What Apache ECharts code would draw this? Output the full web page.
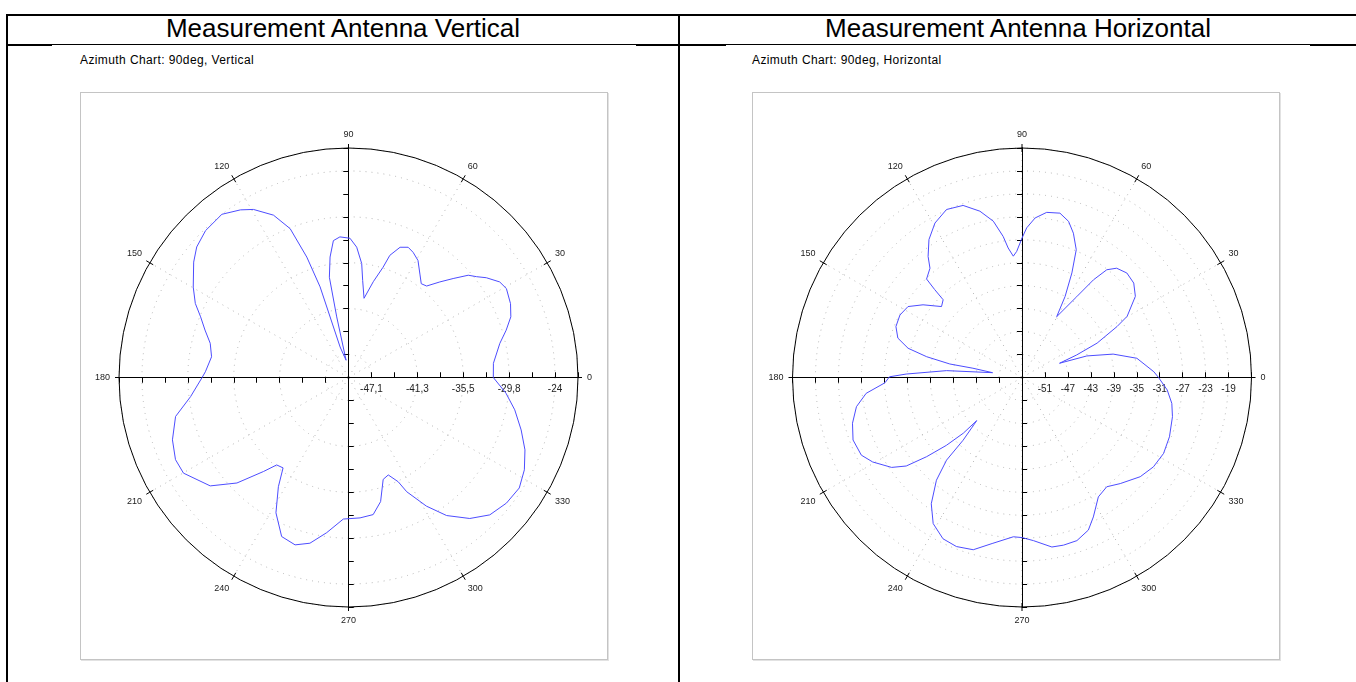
<!DOCTYPE html>
<html>
<head>
<meta charset="utf-8">
<script src="https://cdn.jsdelivr.net/npm/echarts@6/dist/echarts.min.js"></script>
<style>
  body { margin: 0; background: #fff; font-family: "Liberation Sans", Arial, sans-serif; }
  .ln { position: absolute; background: #000; }
  .ttl { position: absolute; top: 14px; height: 29px; line-height: 29px; text-align: center; font-size: 26px; color: #000; }
  .sub { position: absolute; top: 53px; font-size: 12px; letter-spacing: 0.4px; color: #000; }
  .box { position: absolute; top: 92px; width: 526px; height: 566px; border: 1px solid #c4c4c4; box-shadow: 1px 1px 0 #e2e2e2; }
  #chart { position: absolute; left: 0; top: 0; width: 1356px; height: 682px; }
</style>
</head>
<body>
<!-- table lines -->
<div class="ln" style="left:6px;top:14px;width:1350px;height:2px"></div>
<div class="ln" style="left:6px;top:14px;width:2px;height:668px"></div>
<div class="ln" style="left:678px;top:14px;width:2px;height:668px"></div>
<div class="ln" style="left:6px;top:44px;width:1350px;height:1px"></div>
<div class="ln" style="left:6px;top:44px;width:46px;height:2px"></div>
<div class="ln" style="left:636px;top:44px;width:90px;height:2px"></div>
<div class="ln" style="left:1310px;top:44px;width:46px;height:2px"></div>

<div class="ttl" style="left:8px;width:670px">Measurement Antenna Vertical</div>
<div class="ttl" style="left:680px;width:676px">Measurement Antenna Horizontal</div>
<div class="sub" style="left:80px">Azimuth Chart: 90deg, Vertical</div>
<div class="sub" style="left:752px">Azimuth Chart: 90deg, Horizontal</div>
<div class="box" style="left:80px"></div>
<div class="box" style="left:752px"></div>

<div id="chart"></div>
<script>
// 垂直天线 (dB / deg)
var vAngles = [0, 5.6, 12.7, 16.7, 20.5, 24.5, 29.4, 32.3, 35.9, 38.2, 40.5, 43.4, 46.3, 49.5, 52.2, 55.1, 59.3, 62.7, 65.4, 68.4,
    71.3, 72.6, 75.5, 78.9, 81.7, 83.4, 86.4, 89.4, 93.5, 96.3, 98.7, 100.8, 101, 98, 105.4, 107.4, 109.1, 111.4, 114.8, 119.5,
    122.8, 127.8, 134.2, 139.3, 143.3, 149.8, 154.2, 157.7, 161.7, 166.1, 171.4, 177.7, 180, 186.9, 192.7, 199.5, 205.4, 210.1,
    218.1, 223.4, 227.9, 230.6, 234.1, 237.3, 241.8, 247.2, 252.3, 256.9, 262, 267.9, 274.7, 280.2, 284.5, 288.8, 292.2, 295.5,
    297, 301.2, 305.4, 310.7, 315.8, 321.5, 327.1, 332.3, 337.7, 343.1, 349, 354.3, 360];
var vValues = [-31.7, -31.6, -30.4, -29.2, -28.1, -27.5, -27.1, -27.4, -28.5, -29.4, -30.1, -31.8, -33.3, -34.8, -35.0, -34.2, -32.8, -32.2, -31.9, -32.3,
    -33.7, -35.4, -37.5, -39.8, -37.6, -35.5, -33.5, -32.4, -32.2, -32.6, -34.6, -37.1, -42.2, -47.8, -46.0, -38.0, -33.9, -29.8, -27.4, -25.6,
    -24.8, -23.9, -24.1, -24.7, -25.6, -27.3, -28.5, -29.8, -30.9, -32.0, -32.5, -31.9, -31.5, -29.9, -27.6, -26.4, -25.8, -25.9,
    -27.8, -30.6, -34.0, -35.7, -35.9, -33.6, -30.6, -28.2, -27.8, -28.5, -30.2, -32.1, -32.2, -32.4, -33.8, -36.4, -36.7, -35.4,
    -33.8, -31.0, -28.6, -26.5, -25.1, -24.5, -24.3, -24.9, -25.9, -27.2, -28.6, -30.0, -31.7];
var vTickLabels = ['-47,1', '-41,3', '-35,5', '-29,8', '-24'];

// 水平天线
var hAngles = [0, 2.5, 9.5, 14.4, 18.4, 20.8, 22.4, 24.6, 28.2, 30.2, 35.6, 40.2, 44.9, 49.1, 51.8, 53.8, 55.9, 60.3, 62, 64.5,
    67, 70.4, 73.4, 77, 81.5, 85.3, 88.2, 90, 92.4, 94.1, 96.1, 97.6, 100.4, 104.2, 108.9, 114.2, 119.4, 124, 127.8, 130.1,
    134.1, 134.8, 135.4, 138.6, 143.7, 148.1, 152.9, 158, 162.4, 165.6, 167.7, 169.4, 169.3, 170.7, 174.8, 178.3, 179.7, 182.2,
    185.8, 190, 195.1, 200.3, 205.8, 209.5, 214.6, 217.4, 219.7, 221.9, 223.5, 223.6, 226.8, 227.6, 230.2, 234.3, 238.7, 243.9,
    248.8, 254.2, 259.8, 266.9, 270, 274, 280, 283.9, 288.6, 293.5, 297.1, 302.6, 307.8, 312.8, 320, 325.8, 331.8, 338.1,
    345.4, 350.2, 355.1, 360];
var hValues = [-31.2, -32.0, -34.7, -38.6, -43.1, -48.0, -44.7, -40.6, -36.2, -33.8, -30.7, -29.5, -29.2, -29.8, -31.1, -33.9, -38.0, -42.8, -39.0, -34.8,
    -30.8, -28.3, -26.6, -25.6, -25.9, -27.1, -28.9, -30.7, -33.0, -33.8, -32.3, -30.2, -27.3, -25.1, -23.3, -22.9, -24.1, -26.0, -28.3, -30.1,
    -31.1, -33.4, -35.7, -36.3, -33.6, -31.6, -31.1, -31.3, -32.3, -34.5, -38.0, -42.2, -46.3, -49.8, -41.8, -34.8, -31.9, -31.1,
    -27.7, -25.7, -24.4, -23.6, -23.9, -25.1, -27.4, -29.6, -33.4, -37.3, -40.9, -44.1, -40.0, -35.5, -31.7, -27.9, -25.2, -23.7,
    -23.4, -23.8, -25.6, -27.2, -27.1, -26.5, -25.0, -24.9, -25.0, -26.0, -27.7, -30.3, -30.9, -29.8, -28.1, -27.3, -27.0, -27.3,
    -27.9, -28.5, -29.6, -31.2];
var hTickLabels = ['-51', '-47', '-43', '-39', '-35', '-31', '-27', '-23', '-19'];

var chart = echarts.init(document.getElementById('chart'));
var R = 229.5;
var dotted = { color: '#b4b4b4', width: 1, type: [1, 5] };

var polar = [], angleAxis = [], radiusAxis = [], series = [];

// 一个图: 主极坐标 + 十字轴 + 刻度
function addChart(cx, cy, min, max, step, labelFn, everyCircle, angles, values) {
    var main = polar.length;
    // 主坐标: 0度方向半径轴(带标签), 外圆, 角度标签
    polar.push({ center: [cx, cy], radius: R });
    angleAxis.push({
        polarIndex: main, type: 'value', min: 0, max: 360, interval: 30, startAngle: 0, clockwise: false,
        axisLine: { lineStyle: { color: '#000', width: 1 } },
        axisTick: { show: true, length: 4, lineStyle: { color: '#000' } },
        axisLabel: { fontSize: 9, color: '#222', margin: 9, fontFamily: 'Liberation Sans',
            formatter: function (v) { return v === 360 ? '' : String(v); } },
        splitLine: { show: true, lineStyle: dotted }
    });
    radiusAxis.push({
        polarIndex: main, type: 'value', min: min, max: max, interval: step,
        axisLine: { lineStyle: { color: '#000', width: 1 } },
        axisTick: { show: true, length: 5, lineStyle: { color: '#000' } },
        axisLabel: { show: true, fontSize: 10, color: '#222', margin: -17, fontFamily: 'Liberation Sans',
            formatter: labelFn },
        splitLine: { show: everyCircle, lineStyle: dotted }
    });
    // 其它方向
    [0, 90, 180, 270].forEach(function (a) {
        [false, true].forEach(function (inside) {
            if (a === 0 && !inside) return;
            var i = polar.length;
            polar.push({ center: [cx, cy], radius: R });
            angleAxis.push({
                polarIndex: i, type: 'value', min: 0, max: 360, startAngle: a, clockwise: false,
                axisLine: { show: false }, axisLabel: { show: false }, splitLine: { show: false },
                axisTick: { show: a === 0, inside: true, length: 4, lineStyle: { color: '#000' } }
            });
            radiusAxis.push({
                polarIndex: i, type: 'value', min: min, max: max, interval: step,
                axisLine: { show: a !== 0, lineStyle: { color: '#000', width: 1 } },
                axisTick: { show: true, inside: inside, length: 5, lineStyle: { color: '#000' } },
                axisLabel: { show: false }, splitLine: { show: false }
            });
        });
    });
    // 隔一个刻度的虚线圆
    if (!everyCircle) {
        var i = polar.length;
        var first = min + step;
        polar.push({ center: [cx, cy], radius: [R * step / (max - min), R] });
        angleAxis.push({ polarIndex: i, type: 'value', min: 0, max: 360, show: false });
        radiusAxis.push({
            polarIndex: i, type: 'value', min: first, max: max, interval: step * 2,
            axisLine: { show: false }, axisTick: { show: false }, axisLabel: { show: false },
            splitLine: { show: true, lineStyle: dotted }
        });
    }
    series.push({
        type: 'line', coordinateSystem: 'polar', polarIndex: main, symbol: 'none', smooth: false,
        lineStyle: { color: '#4d4dff', width: 1 }, z: 5,
        data: values.map(function (v, k) { return [v, angles[k]]; })
    });
}

addChart(348.5, 377.5, -50, -21, 2.9, function (v, idx) {
    return idx % 2 === 1 ? (vTickLabels[(idx - 1) / 2] || '') : '';
}, false, vAngles, vValues);

addChart(1022, 377.5, -55, -15, 4, function (v, idx) {
    return hTickLabels[idx - 1] || '';
}, true, hAngles, hValues);

chart.setOption({
    animation: false,
    polar: polar,
    angleAxis: angleAxis,
    radiusAxis: radiusAxis,
    series: series
});
</script>
</body>
</html>
